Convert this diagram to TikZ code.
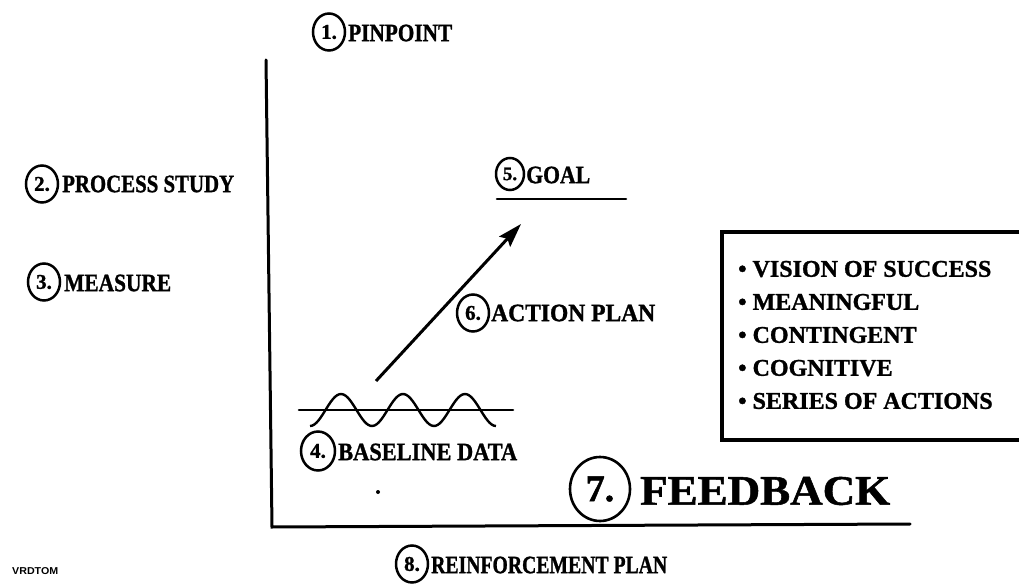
\documentclass[tikz,border=0pt]{standalone}
\usepackage{fontspec}
\usepackage{graphicx}
\setmainfont{Liberation Serif}
\setsansfont{Liberation Sans}
\newfontfamily\heavyserif{Liberation Serif}[FakeBold=1.2]
\newcommand\fitw[2]{\resizebox{#1}{\height}{#2}}
\usetikzlibrary{arrows.meta,shapes.geometric}
\begin{document}
\begin{tikzpicture}[x=1pt,y=-1pt,
  lbl/.style={font=\heavyserif\bfseries\fontsize{25}{28}\selectfont, anchor=west, inner sep=0pt},
  item/.style={font=\heavyserif\bfseries\fontsize{24}{27}\selectfont, anchor=west, inner sep=0pt},
  num/.style={draw, ellipse, line width=2.5pt, inner sep=0pt, minimum width=32pt, minimum height=37pt, font=\heavyserif\bfseries\fontsize{21}{24}\selectfont},
  bignum/.style={draw, ellipse, line width=2.6pt, inner sep=0pt, minimum width=60pt, minimum height=64pt, font=\heavyserif\bfseries\fontsize{38}{42}\selectfont},
  axisline/.style={line width=3pt, line cap=round},
  thinline/.style={line width=2.6pt, line cap=round}]
\useasboundingbox (0,0) rectangle (1020,585);

% axes
\coordinate (top) at (266,60);
\coordinate (corner) at (272,527);
\coordinate (right) at (910,524);
\draw[axisline] (top) -- (corner) -- (right);

% 1. pinpoint
\node[num] (c1) at (329,32) {1.};
\node[lbl] (t1) at (348,33) {\fitw{104pt}{PINPOINT}};
% 2. process study
\node[num] (c2) at (42,184) {2.};
\node[lbl] (t2) at (62,184) {\fitw{172pt}{PROCESS STUDY}};
% 3. measure
\node[num] (c3) at (44,282) {3.};
\node[lbl] (t3) at (64,283) {\fitw{107pt}{MEASURE}};
% 5. goal
\node[num, minimum width=28pt, minimum height=32pt, font=\heavyserif\bfseries\fontsize{19}{22}\selectfont] (c5) at (510,174) {5.};
\node[lbl] (t5) at (526,175) {\fitw{64pt}{GOAL}};
\coordinate (goalL) at (497,199);
\coordinate (goalR) at (626,199);
\draw[thinline] (goalL) -- (goalR);
% arrow
\coordinate (arrS) at (376,381);
\coordinate (arrE) at (521,224);
\draw[line width=3pt, -{Stealth[length=24pt,width=15pt,inset=4pt]}] (arrS) -- (arrE);
% 6. action plan
\node[num] (c6) at (473,313) {6.};
\node[lbl] (t6) at (491,313) {\fitw{164pt}{ACTION PLAN}};
% baseline + wave
\coordinate (baseL) at (299,410);
\coordinate (baseR) at (513,410);
\draw[thinline] (baseL) -- (baseR);
\draw[line width=2.4pt] plot[domain=0:3, samples=90, smooth] ({310+62*\x},{410+16*cos(360*\x)});
% 4. baseline data
\node[num, minimum width=34pt, minimum height=39pt] (c4) at (318,451) {4.};
\node[lbl] (t4) at (338,452) {\fitw{179pt}{BASELINE DATA}};
% dot
\fill (378,492) circle (2pt);
% 7. feedback
\node[bignum] (c7) at (600,489) {7.};
\node[font=\heavyserif\bfseries\fontsize{42}{46}\selectfont, anchor=west, inner sep=0pt] (t7) at (640,491) {\fitw{250pt}{FEEDBACK}};
% 8. reinforcement plan
\node[num] (c8) at (412,564) {8.};
\node[lbl] (t8) at (431,565) {\fitw{236pt}{REINFORCEMENT PLAN}};
% box
\coordinate (bxTR) at (1019,232);
\coordinate (bxTL) at (722,232);
\coordinate (bxBL) at (722,440);
\coordinate (bxBR) at (1019,440);
\draw[line width=3.2pt] (bxTR) -- (bxTL) -- (bxBL) -- (bxBR);
\node[item] (i1) at (738,269) {\textbullet\ VISION OF SUCCESS};
\node[item] (i2) at (738,302) {\textbullet\ MEANINGFUL};
\node[item] (i3) at (738,335) {\textbullet\ CONTINGENT};
\node[item] (i4) at (738,368) {\textbullet\ COGNITIVE};
\node[item] (i5) at (738,401) {\textbullet\ SERIES OF ACTIONS};
% vrd tom
\node[font=\sffamily\bfseries\fontsize{10}{12}\selectfont, anchor=west, inner sep=0pt] (vrd) at (12,571) {\fitw{46pt}{VRDTOM}};
\end{tikzpicture}
\end{document}
